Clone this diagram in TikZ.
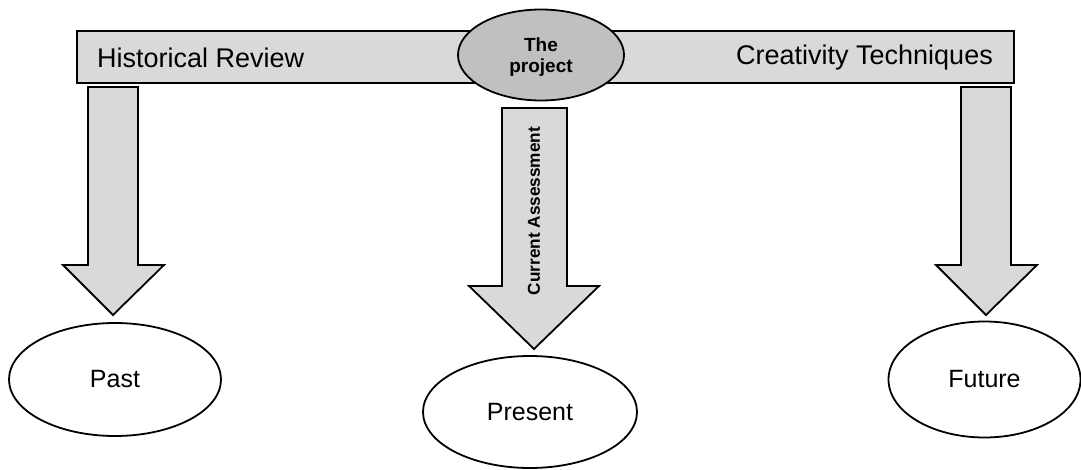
\documentclass[tikz,border=0pt]{standalone}
\usepackage{fontspec}
\setmainfont{Liberation Sans}
\usetikzlibrary{shapes.geometric}
\definecolor{barfill}{HTML}{D9D9D9}
\definecolor{hubfill}{HTML}{C0C0C0}
\begin{document}
\begin{tikzpicture}[x=1pt,y=-1pt,
  outline/.style={draw=black,line width=1.8pt},
  bar/.style={outline,fill=barfill,rectangle,inner sep=0pt,minimum width=937pt,minimum height=52pt},
  hub/.style={outline,fill=hubfill,ellipse,inner sep=0pt,minimum width=166pt,minimum height=91pt},
  hubtext/.style={font=\fontsize{19}{21.5}\selectfont\bfseries,align=center,inner sep=0pt},
  stage/.style={outline,fill=white,ellipse,inner sep=0pt,font=\fontsize{25}{28}\selectfont},
  blockarrow/.style={outline,fill=barfill,line join=miter},
  bartext/.style={font=\fontsize{27}{30}\selectfont,inner sep=0pt}
]
\useasboundingbox (0,0) rectangle (1081,470);

% top bar with the two headings
\node[bar] (bar) at (545.5,57) {};
\node[bartext,anchor=west] (hist) at (97,58) {Historical Review};
\node[bartext,anchor=east] (crea) at (993,58) {Creativity Techniques};

% central hub
\node[hub] (hub) at (541,55) {};
\node[hubtext] (hubtxt) at (541,57) {The\\project};

% three outcomes
\node[stage,minimum width=212pt,minimum height=113pt] (past) at (115,379.5) {Past};
\node[stage,minimum width=214pt,minimum height=112pt] (present) at (530,412) {Present};
\node[stage,minimum width=192pt,minimum height=116pt] (future) at (984.5,379.5) {Future};

% block arrows from the bar down to each outcome
\draw[blockarrow] (88,87) -- (138,87) -- (138,265) -- (164,265) -- (113,315)
  -- (63,265) -- (88,265) -- cycle;
\draw[blockarrow] (502,108) -- (567,108) -- (567,286) -- (599,286) -- (534,349)
  -- (469,286) -- (502,286) -- cycle;
\draw[blockarrow] (961,87) -- (1011,87) -- (1011,265) -- (1037,265) -- (986,315)
  -- (936,265) -- (961,265) -- cycle;

\node[rotate=90,font=\fontsize{17.2}{20}\selectfont\bfseries,inner sep=0pt] (assess)
  at (534,211) {Current Assessment};
\end{tikzpicture}
\end{document}
